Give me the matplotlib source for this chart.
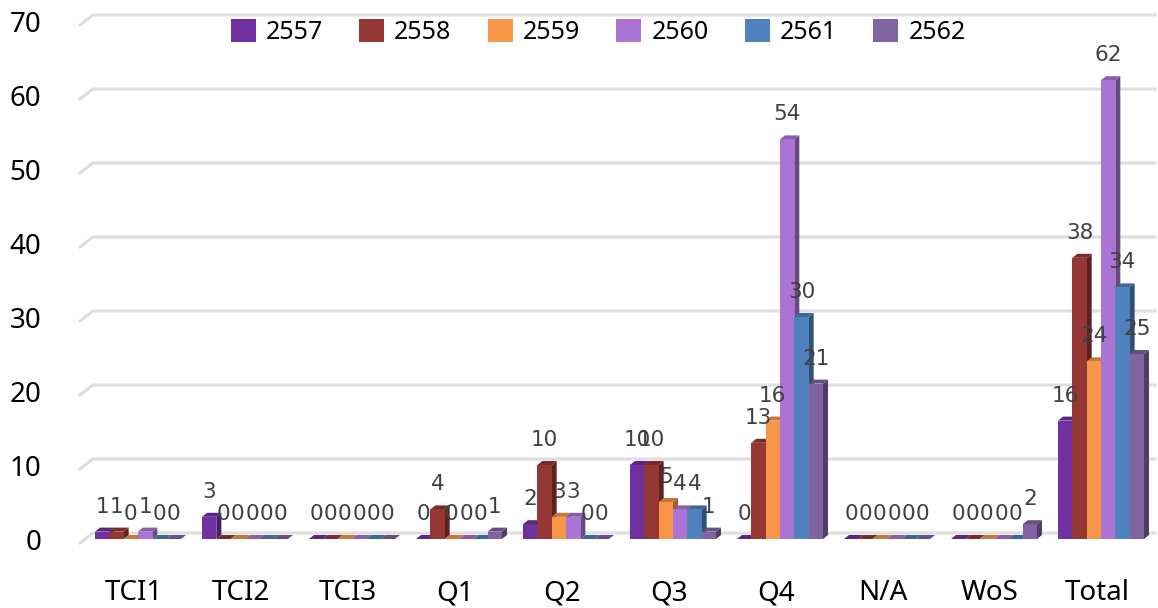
import matplotlib
matplotlib.use('Agg')
import matplotlib.pyplot as plt
from matplotlib.colors import to_rgb
from matplotlib.patches import Patch
from matplotlib.transforms import ScaledTranslation

categories = ['TCI1', 'TCI2', 'TCI3', 'Q1', 'Q2', 'Q3', 'Q4', 'N/A', 'WoS', 'Total']
years = ['2557', '2558', '2559', '2560', '2561', '2562']
y2557 = [1, 3, 0, 0, 2, 10, 0, 0, 0, 16]
y2558 = [1, 0, 0, 4, 10, 10, 13, 0, 0, 38]
y2559 = [0, 0, 0, 0, 3, 5, 16, 0, 0, 24]
y2560 = [1, 0, 0, 0, 3, 4, 54, 0, 0, 62]
y2561 = [0, 0, 0, 0, 0, 4, 30, 0, 0, 34]
y2562 = [0, 0, 0, 1, 0, 1, 21, 0, 2, 25]
series = [y2557, y2558, y2559, y2560, y2561, y2562]
colors = ['#7030A0', '#953735', '#F79646', '#AB74D4', '#4F81BD', '#8064A2']
yticks = [0, 10, 20, 30, 40, 50, 60, 70]

W, H = 1158, 608
PX_X = 107.0   # pixels per category
PX_Y = 7.4     # pixels per unit
BASE = 539     # pixel row of value 0
CENTER0 = 138  # pixel column of first group centre
AX_LEFT = 80


def shade(c, f):
    return tuple(v * f for v in to_rgb(c))


fig = plt.figure(figsize=(W / 100, H / 100), dpi=100)
plt.rcParams['font.family'] = 'Noto Sans'
ax = fig.add_axes([AX_LEFT / W, (H - BASE) / H, (W - AX_LEFT) / W, BASE / H])
ax.set_xlim((AX_LEFT - CENTER0) / PX_X, (W - CENTER0) / PX_X)
ax.set_ylim(0, BASE / PX_Y)
for s in ax.spines.values():
    s.set_visible(False)

bw = 14.33 / PX_X
dx = 5 / PX_X
dy = 4 / PX_Y

# back wall gridlines with the short slanted piece at the left
x_front = (AX_LEFT - CENTER0) / PX_X
x_back = (93 - CENTER0) / PX_X
x_end = (W - 3 - CENTER0) / PX_X
for v in yticks:
    ax.plot([x_front, x_back, x_end],
            [v - 4 / PX_Y, v + 6 / PX_Y, v + 6 / PX_Y],
            color='#DEDEDE', lw=2.2, clip_on=False, zorder=1)

z = 2
for i in range(len(categories)):
    for k, vals in enumerate(series):
        v = vals[i]
        x0 = i + (k - 3) * bw
        x1 = x0 + bw
        c = colors[k]
        ax.bar(x0, v, width=bw, align='edge', color=c, linewidth=0, zorder=z + 0.2)
        ax.fill([x1, x1 + dx, x1 + dx, x1], [0, dy, v + dy, v],
                color=shade(c, 0.62), lw=0, zorder=z)
        ax.fill([x0, x0 + dx, x1 + dx, x1], [v, v + dy, v + dy, v],
                color=shade(c, 0.8), lw=0, zorder=z + 0.1)
        z += 1

for i in range(len(categories)):
    for k, vals in enumerate(series):
        x0 = i + (k - 3) * bw
        ax.annotate(str(vals[i]), (x0 + bw / 2, vals[i]), xytext=(0, 18),
                    textcoords='offset points', ha='center', va='center',
                    fontsize=15.5, family='DejaVu Sans', color='#404040', zorder=500)

ax.set_xticks(range(len(categories)))
ax.set_xticklabels(categories)
ax.set_yticks(yticks)
ax.tick_params(axis='both', length=0, labelsize=20, colors='black')
ax.tick_params(axis='x', pad=29)
ax.tick_params(axis='y', pad=28)
shift = ScaledTranslation(-4 / 100, 0, fig.dpi_scale_trans)
for lab in ax.get_xticklabels():
    lab.set_transform(lab.get_transform() + shift)

handles = [Patch(facecolor=c, label=y) for c, y in zip(colors, years)]
fig.legend(handles=handles, loc='center', bbox_to_anchor=(598 / W, 1 - 32 / H), ncol=6,
           frameon=False, fontsize=18, handlelength=1, handleheight=1,
           handletextpad=0.4, columnspacing=1.45, borderpad=0)

fig.savefig('out.png', dpi=100)
